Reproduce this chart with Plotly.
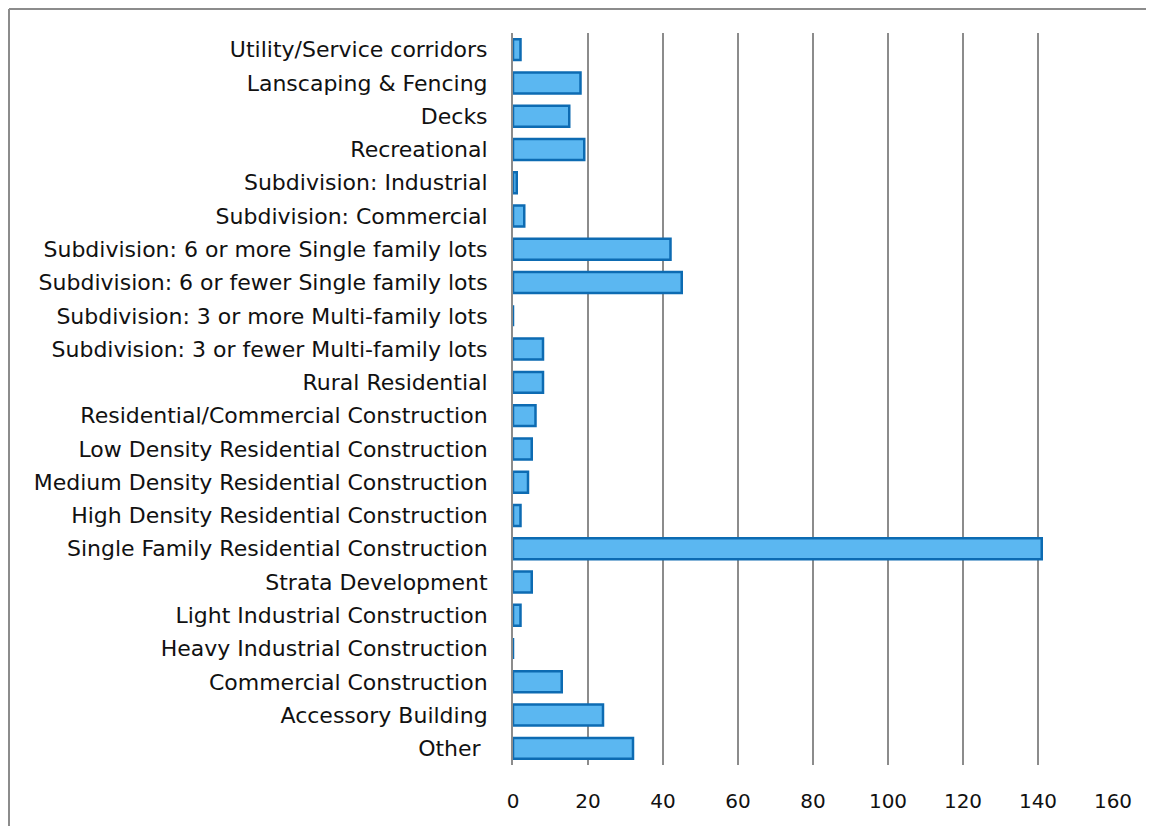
import plotly.graph_objects as go

categories = [
    "Utility/Service corridors",
    "Lanscaping & Fencing",
    "Decks",
    "Recreational",
    "Subdivision: Industrial",
    "Subdivision: Commercial",
    "Subdivision: 6 or more Single family lots",
    "Subdivision: 6 or fewer Single family lots",
    "Subdivision: 3 or more Multi-family lots",
    "Subdivision: 3 or fewer Multi-family lots",
    "Rural Residential",
    "Residential/Commercial Construction",
    "Low Density Residential Construction",
    "Medium Density Residential Construction",
    "High Density Residential Construction",
    "Single Family Residential Construction",
    "Strata Development",
    "Light Industrial Construction",
    "Heavy Industrial Construction",
    "Commercial Construction",
    "Accessory Building",
    "Other ",
]
values = [2, 18, 15, 19, 1, 3, 42, 45, 0, 8, 8, 6, 5, 4, 2, 141, 5, 2, 0, 13, 24, 32]
x_ticks = [0, 20, 40, 60, 80, 100, 120, 140, 160]

FONT = "DejaVu Sans"

# page has an 8px body margin, so the figure is 8px smaller than the window
W, H = 1146, 818
L, T, R, B = 505, 25, 41, 61
PW = W - L - R
PH = H - T - B

fig = go.Figure(
    go.Bar(
        x=values,
        y=categories,
        orientation="h",
        marker=dict(color="#5BB7F1", line=dict(color="#0D6BB2", width=2.5)),
        width=0.63,
    )
)

fx0 = (1 - L) / PW
fx1 = (W - L) / PW
fy_top = (PH + T - 1) / PH
fy_bot = -B / PH

fig.update_layout(
    width=W,
    height=H,
    autosize=False,
    margin=dict(l=L, r=R, t=T, b=B),
    paper_bgcolor="white",
    plot_bgcolor="white",
    font=dict(family=FONT, size=22, color="#111111"),
    showlegend=False,
    xaxis=dict(
        range=[0, 160],
        tickvals=x_ticks,
        ticktext=[str(t) for t in x_ticks],
        showgrid=True,
        gridcolor="#8C8C8C",
        gridwidth=1.5,
        zeroline=False,
        showline=False,
        ticks="",
        ticklabelstandoff=22,
        tickfont=dict(family=FONT, size=20),
        fixedrange=True,
    ),
    yaxis=dict(
        categoryorder="array",
        categoryarray=categories,
        autorange="reversed",
        showgrid=False,
        zeroline=False,
        showline=True,
        linecolor="#8C8C8C",
        linewidth=2,
        ticks="",
        ticklabelstandoff=19,
        tickfont=dict(family=FONT, size=22),
        fixedrange=True,
    ),
    shapes=[
        dict(type="line", xref="paper", yref="paper",
             x0=fx0, x1=fx0, y0=fy_bot, y1=fy_top,
             line=dict(color="#8C8C8C", width=2), layer="below"),
        dict(type="line", xref="paper", yref="paper",
             x0=fx0, x1=fx1, y0=fy_top, y1=fy_top,
             line=dict(color="#8C8C8C", width=2), layer="below"),
    ],
)

fig.write_html("out.html")
